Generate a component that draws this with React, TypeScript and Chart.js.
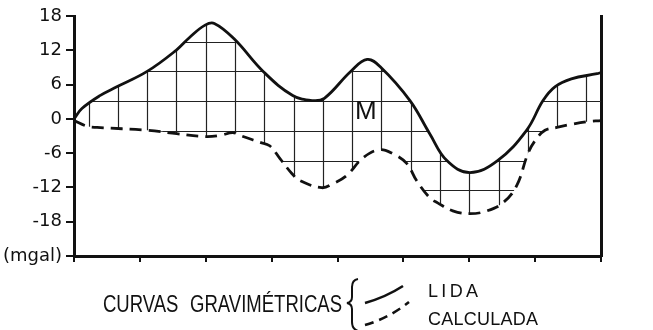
import React, { useEffect, useRef } from "react";
import { Chart, registerables } from "chart.js";

Chart.register(...registerables);

// ---- data ----
const X_MIN = 0;
const X_MAX = 8;
const X_STEP = 1;
const Y_MIN = -24;
const Y_MAX = 18;
const Y_STEP = 6;
const Y_UNIT_LABEL = "(mgal)";

// Measured gravimetric curve ("LIDA")
const lidaX = [0, 0.12, 0.4, 0.65, 1.11, 1.55, 1.75, 1.99, 2.13, 2.43, 2.88, 3.32, 3.62, 3.8, 4.2, 4.45, 4.66, 5.1, 5.4, 5.66, 6.01, 6.43, 6.87, 7.12, 7.3, 7.55, 7.94, 8];
const lidaY = [0, 1.8, 4.1, 5.6, 8.3, 12.0, 14.2, 16.4, 16.7, 14.0, 8.2, 4.1, 3.2, 3.6, 8.3, 10.4, 9.0, 3.2, -2.6, -7.3, -9.4, -7.3, -2.0, 3.2, 5.6, 7.0, 7.9, 8.1];

// Calculated gravimetric curve ("CALCULADA")
const calcX = [0, 0.2, 0.35, 1.11, 1.56, 1.99, 2.22, 2.41, 2.52, 2.82, 2.97, 3.13, 3.31, 3.43, 3.76, 3.93, 4.14, 4.39, 4.64, 4.84, 5.05, 5.2, 5.4, 5.52, 5.75, 6.01, 6.27, 6.51, 6.72, 6.89, 7.0, 7.15, 7.33, 7.53, 7.78, 8];
const calcY = [-0.3, -1.3, -1.5, -2.0, -2.6, -3.1, -2.9, -2.4, -2.9, -4.1, -4.7, -7.0, -9.6, -10.8, -12.05, -11.35, -9.9, -6.8, -5.4, -6.1, -7.8, -10.8, -13.8, -14.7, -16.1, -16.6, -16.1, -14.7, -11.7, -6.1, -3.8, -2.0, -1.5, -1.0, -0.5, -0.3];

// Hatching between the curves (data units)
const HATCH_COLUMNS = 18;
const HATCH_ROWS = [13.5, 8.3, 3.1, -2.1, -7.3, -12.5];

const MARK_TEXT = "M";
const MARK_X = 4.43;
const MARK_Y = 1.3;

const LEGEND_TITLE = "CURVAS GRAVIMÉTRICAS";
const SERIES_NAMES = ["LIDA", "CALCULADA"];

const INK = "#111";

const toPoints = (xs: number[], ys: number[]) => xs.map((x, i) => ({ x, y: ys[i] }));

const hatchPlugin = {
  id: "hatchBetween",
  beforeDatasetsDraw(chart: any) {
    const meta0 = chart.getDatasetMeta(0);
    const meta1 = chart.getDatasetMeta(1);
    if (!meta0 || !meta1 || !meta0.dataset || !meta1.dataset) return;
    const area = chart.chartArea;
    meta0.dataset.updateControlPoints(area, "x");
    meta1.dataset.updateControlPoints(area, "x");
    const a = meta0.data;
    const b = meta1.data;
    const ctx = chart.ctx;
    const xs = chart.scales.x;
    const ys = chart.scales.y;
    ctx.save();
    ctx.beginPath();
    ctx.rect(area.left, area.top, area.right - area.left, area.bottom - area.top);
    ctx.clip();
    ctx.beginPath();
    ctx.moveTo(a[0].x, a[0].y);
    for (let i = 1; i < a.length; i++) {
      const p = a[i - 1];
      const t = a[i];
      ctx.bezierCurveTo(p.cp2x, p.cp2y, t.cp1x, t.cp1y, t.x, t.y);
    }
    const n = b.length;
    ctx.lineTo(b[n - 1].x, b[n - 1].y);
    for (let i = n - 2; i >= 0; i--) {
      const p = b[i + 1];
      const t = b[i];
      ctx.bezierCurveTo(p.cp1x, p.cp1y, t.cp2x, t.cp2y, t.x, t.y);
    }
    ctx.closePath();
    ctx.clip();
    ctx.strokeStyle = "#222";
    ctx.lineWidth = 1.2;
    ctx.beginPath();
    for (let i = 0; i < HATCH_COLUMNS; i++) {
      const px = Math.round(xs.getPixelForValue(X_MIN + ((i + 0.5) * (X_MAX - X_MIN)) / HATCH_COLUMNS)) + 0.5;
      ctx.moveTo(px, area.top);
      ctx.lineTo(px, area.bottom);
    }
    for (const v of HATCH_ROWS) {
      const py = Math.round(ys.getPixelForValue(v)) + 0.5;
      ctx.moveTo(area.left, py);
      ctx.lineTo(area.right, py);
    }
    ctx.stroke();
    ctx.restore();
  },
  afterDatasetsDraw(chart: any) {
    const ctx = chart.ctx;
    const xs = chart.scales.x;
    const ys = chart.scales.y;
    ctx.save();
    ctx.fillStyle = INK;
    ctx.font = '26px "Liberation Sans", Arial, sans-serif';
    ctx.textAlign = "center";
    ctx.textBaseline = "middle";
    ctx.fillText(MARK_TEXT, xs.getPixelForValue(MARK_X), ys.getPixelForValue(MARK_Y));
    ctx.restore();
  },
};

function GravChart() {
  const ref = useRef<HTMLCanvasElement | null>(null);
  useEffect(() => {
    if (!ref.current) return;
    const chart = new Chart(ref.current, {
      type: "line",
      data: {
        datasets: [
          {
            label: SERIES_NAMES[0],
            data: toPoints(lidaX, lidaY),
            borderColor: INK,
            borderWidth: 2.8,
            pointRadius: 0,
            tension: 0.4,
            fill: false,
          },
          {
            label: SERIES_NAMES[1],
            data: toPoints(calcX, calcY),
            borderColor: INK,
            borderWidth: 2.8,
            borderDash: [12, 7],
            pointRadius: 0,
            tension: 0.4,
            fill: false,
          },
        ],
      },
      options: {
        responsive: false,
        animation: false,
        events: [],
        layout: { padding: { top: 16, left: 0, right: 0, bottom: 0 } },
        plugins: { legend: { display: false }, tooltip: { enabled: false }, title: { display: false } },
        scales: {
          x: {
            type: "linear",
            min: X_MIN,
            max: X_MAX,
            afterFit(s: any) {
              s.height = 74;
            },
            ticks: { stepSize: X_STEP, display: false },
            grid: { drawOnChartArea: false, drawTicks: true, tickLength: 6, color: INK, lineWidth: 2 },
            border: { display: true, color: INK, width: 3 },
          },
          y: {
            type: "linear",
            min: Y_MIN,
            max: Y_MAX,
            afterFit(s: any) {
              s.width = 74;
            },
            ticks: {
              stepSize: Y_STEP,
              autoSkip: false,
              padding: 4,
              color: INK,
              font: { family: '"DejaVu Sans", sans-serif', size: 18 },
              callback: (v: any) => (Number(v) === Y_MIN ? Y_UNIT_LABEL : String(v)),
            },
            grid: { drawOnChartArea: false, drawTicks: true, tickLength: 8, color: INK, lineWidth: 2 },
            border: { display: true, color: INK, width: 3 },
          },
          y2: {
            type: "linear",
            position: "right",
            min: Y_MIN,
            max: Y_MAX,
            afterFit(s: any) {
              s.width = 52;
            },
            ticks: { display: false },
            grid: { display: false, drawTicks: false },
            border: { display: true, color: INK, width: 3 },
          },
        },
      },
      plugins: [hatchPlugin],
    } as any);
    return () => chart.destroy();
  }, []);
  return <canvas ref={ref} width={653} height={330} style={{ position: "absolute", left: 0, top: 0 }} />;
}

function Legend() {
  return (
    <svg width={653} height={330} style={{ position: "absolute", left: 0, top: 0, pointerEvents: "none" }}>
      <text
        x={103}
        y={312}
        fontFamily='"Liberation Sans", Arial, sans-serif'
        fontSize={23}
        fill={INK}
        wordSpacing={8}
        textLength={239}
        lengthAdjust="spacingAndGlyphs"
      >
        {LEGEND_TITLE}
      </text>
      <path
        d="M358 279 Q352 280 352 287 L352 297 Q352 302 347 303 Q352 304 352 309 L352 322 Q352 329 358 331"
        fill="none"
        stroke={INK}
        strokeWidth={2}
      />
      <path d="M365 303 Q386 297 403 286" fill="none" stroke={INK} strokeWidth={2.6} />
      <path d="M365 325 Q389 318 409 302" fill="none" stroke={INK} strokeWidth={2.6} strokeDasharray="9 6" />
      <text
        x={428}
        y={297}
        fontFamily='"Liberation Sans", Arial, sans-serif'
        fontSize={18}
        fill={INK}
        textLength={50}
        lengthAdjust="spacing"
      >
        {SERIES_NAMES[0]}
      </text>
      <text
        x={428}
        y={325}
        fontFamily='"Liberation Sans", Arial, sans-serif'
        fontSize={18}
        fill={INK}
        textLength={110}
        lengthAdjust="spacing"
      >
        {SERIES_NAMES[1]}
      </text>
    </svg>
  );
}

export default function App() {
  return (
    <div style={{ position: "absolute", left: 0, top: 0, width: 653, height: 330, background: "#fff", overflow: "hidden" }}>
      <GravChart />
      <Legend />
    </div>
  );
}
